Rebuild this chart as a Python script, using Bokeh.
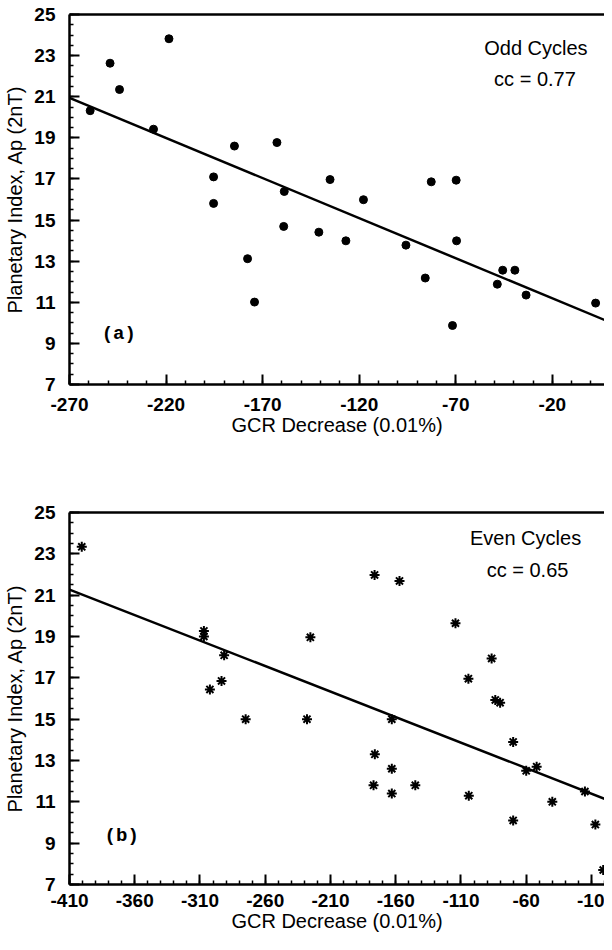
from bokeh.plotting import figure
from bokeh.models import Range1d, FixedTicker, LinearAxis, Label, PrintfTickFormatter
from bokeh.layouts import column
from bokeh.embed import file_html
from bokeh.resources import INLINE

# ---------------- data ----------------
odd_x = [-259.3, -249.0, -244.1, -218.5, -226.5, -184.6, -162.6, -195.4, -195.4,
         -158.8, -135.1, -159.1, -140.9, -126.9, -117.8, -177.8, -174.2, -95.8,
         -85.8, -69.6, -71.7, -48.5, -45.7, -39.4, -33.6, 2.4, -82.7, -69.8]
odd_y = [20.32, 22.63, 21.35, 23.82, 19.42, 18.60, 18.77, 17.10, 15.81,
         16.39, 16.97, 14.69, 14.41, 13.99, 15.99, 13.12, 11.01, 13.78,
         12.18, 13.99, 9.87, 11.88, 12.56, 12.56, 11.35, 10.96, 16.86, 16.94]
odd_fit_x = [-270, 7]
odd_fit_y = [20.94, 10.14]

even_x = [-400.6, -307.0, -307.0, -291.5, -302.4, -293.5, -225.4, -176.2, -157.1,
          -114.2, -86.5, -104.3, -83.7, -275.0, -228.0, -163.0, -176.0, -163.0,
          -177.0, -163.0, -145.0, -104.0, -80.0, -70.0, -60.0, -52.0, -70.0,
          -40.0, -15.0, -7.0, -1.0]
even_y = [23.34, 19.27, 19.00, 18.09, 16.44, 16.85, 18.96, 21.98, 21.69,
          19.64, 17.94, 16.96, 15.93, 15.00, 15.00, 15.00, 13.30, 12.60,
          11.80, 11.40, 11.80, 11.30, 15.80, 13.90, 12.50, 12.70, 10.10,
          11.00, 11.50, 9.90, 7.70]
even_fit_x = [-410, 0]
even_fit_y = [21.27, 11.15]

y_ticks = [7, 9, 11, 13, 15, 17, 19, 21, 23, 25]
y_minor = [7 + 0.5 * i for i in range(37)]
odd_x_ticks = [-270, -220, -170, -120, -70, -20]
odd_x_minor = list(range(-270, 11, 10))
even_x_ticks = [-410, -360, -310, -260, -210, -160, -110, -60, -10]
even_x_minor = list(range(-410, 1, 10))

FONT = "Liberation Sans"


def panel(xr, xt, xm, height, b_top, b_bottom, lab_standoff):
    p = figure(width=604, height=height, x_range=Range1d(*xr), y_range=Range1d(7, 25),
               output_backend="svg", toolbar_location=None,
               min_border_left=69, min_border_right=0,
               min_border_top=b_top, min_border_bottom=b_bottom,
               outline_line_color=None, background_fill_color="white",
               border_fill_color="white")
    p.xgrid.grid_line_color = None
    p.ygrid.grid_line_color = None

    p.xaxis.ticker = FixedTicker(ticks=xt, minor_ticks=xm)
    p.yaxis.ticker = FixedTicker(ticks=y_ticks, minor_ticks=y_minor)
    for ax in (p.xaxis, p.yaxis):
        ax.formatter = PrintfTickFormatter(format="%d")
        ax.axis_line_width = 2.5
        ax.axis_line_color = "black"
        ax.major_tick_in = 10
        ax.major_tick_out = 0
        ax.minor_tick_in = 4
        ax.minor_tick_out = 0
        ax.major_tick_line_width = 2
        ax.minor_tick_line_width = 1.5
        ax.major_tick_line_color = "black"
        ax.minor_tick_line_color = "black"
        ax.major_label_text_font = FONT
        ax.major_label_text_font_size = "19px"
        ax.major_label_text_font_style = "bold"
        ax.major_label_text_color = "black"
        ax.axis_label_text_font = FONT
        ax.axis_label_text_font_size = "20px"
        ax.axis_label_text_font_style = "normal"
        ax.axis_label_text_color = "black"
    p.xaxis.major_label_standoff = lab_standoff
    p.xaxis.axis_label_standoff = 0
    p.yaxis.major_label_standoff = 14
    p.yaxis.axis_label_standoff = 5
    p.xaxis.axis_label = "GCR Decrease (0.01%)"
    p.yaxis.axis_label = "Planetary Index, Ap (2nT)"

    top = LinearAxis(ticker=FixedTicker(ticks=[]), axis_line_width=2.5,
                     axis_line_color="black", major_tick_in=0, major_tick_out=0,
                     minor_tick_in=0, minor_tick_out=0,
                     major_label_text_font_size="0px")
    p.add_layout(top, "above")
    return p


def note(p, x, y, text, font=FONT, style="normal", size="20px"):
    p.add_layout(Label(x=x, y=y, text=text, text_align="center",
                       text_baseline="middle", text_font=font,
                       text_font_style=style, text_font_size=size,
                       text_color="black"))


p1 = panel((-270, 7), odd_x_ticks, odd_x_minor, 462, 14, 78, 13)
p1.line(odd_fit_x, odd_fit_y, line_color="black", line_width=2.5)
p1.scatter(odd_x, odd_y, marker="circle", size=8, fill_color="black", line_color="black")
note(p1, -28.5, 23.35, "Odd Cycles")
note(p1, -29.0, 21.84, "cc = 0.77")
note(p1, -244.5, 9.44, "(a)", font="Liberation Mono", style="bold", size="19px")

p2 = panel((-410, 0), even_x_ticks, even_x_minor, 472, 50, 50, 9)
p2.line(even_fit_x, even_fit_y, line_color="black", line_width=2.5)
p2.scatter(even_x, even_y, marker="asterisk", size=10, line_color="black", line_width=2)
note(p2, -60.5, 23.79, "Even Cycles")
note(p2, -59.0, 22.24, "cc = 0.65")
note(p2, -370.0, 9.36, "(b)", font="Liberation Mono", style="bold", size="19px")

layout = column(p1, p2)
open("out.html", "w").write(file_html(layout, INLINE))
